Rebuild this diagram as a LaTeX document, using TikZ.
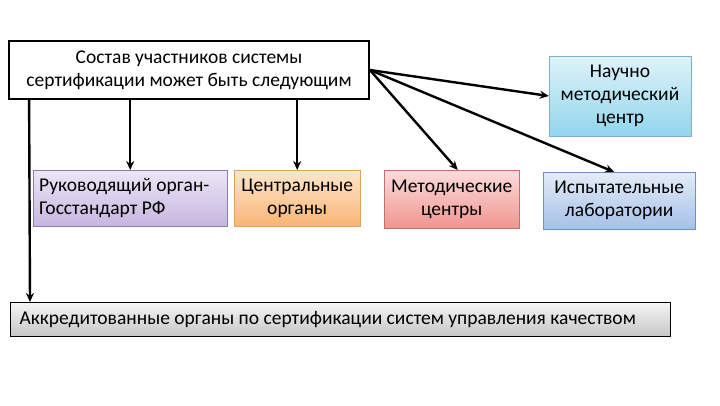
\documentclass[tikz,border=0pt]{standalone}
\usepackage{fontspec}
\setmainfont{Carlito}
\usetikzlibrary{arrows.meta}
\definecolor{nauT}{HTML}{DFF3FA}\definecolor{nauB}{HTML}{92D5EC}\definecolor{nauD}{HTML}{7FB0C8}
\definecolor{rukT}{HTML}{ECE6F5}\definecolor{rukB}{HTML}{C6B6E0}\definecolor{rukD}{HTML}{8A7FA8}
\definecolor{cenT}{HTML}{FDE6CC}\definecolor{cenB}{HTML}{F9B574}\definecolor{cenD}{HTML}{E0A060}
\definecolor{metT}{HTML}{FCDCDC}\definecolor{metB}{HTML}{F0958F}\definecolor{metD}{HTML}{C07070}
\definecolor{ispT}{HTML}{E4ECF8}\definecolor{ispB}{HTML}{A5C0E8}\definecolor{ispD}{HTML}{7090C0}

\begin{document}
\begin{tikzpicture}[x=1pt,y=-1pt,
  box/.style={draw,rectangle,inner sep=2pt,font=\fontsize{19.5}{23}\selectfont,align=center},
  clrbox/.style={box,draw=#1D,top color=#1T,bottom color=#1B,anchor=north west},
  arr/.style={line width=2.4pt,-{Stealth[length=9pt,width=8pt]}}]
\useasboundingbox (0,0) rectangle (720,405);
\node[box,line width=1.8pt,minimum width=360pt,minimum height=58pt] (top) at (189,70)
   {Состав участников системы\\сертификации может быть следующим};
\node[clrbox=nau,anchor=center,minimum width=142pt,minimum height=80pt] (nau) at (620,96)
   {Научно\\методический\\центр};
\node[clrbox=ruk,align=flush left,text width=182pt,inner xsep=6pt,minimum height=56pt] (ruk) at (33,170)
   {Руководящий орган-\\Госстандарт РФ};
\node[clrbox=cen,minimum width=126pt,minimum height=56pt] (cen) at (234,170)
   {Центральные\\органы};
\node[clrbox=met,minimum width=135pt,minimum height=58pt] (met) at (384,170)
   {Методические\\центры};
\node[clrbox=isp,minimum width=152pt,minimum height=57pt] (isp) at (543,172)
   {Испытательные\\лаборатории};
\node[box,line width=1.2pt,top color=gray!8,bottom color=gray!45,anchor=north west,align=flush left,text width=642pt,minimum height=34pt,inner xsep=9pt] (bot) at (10,302)
   {Аккредитованные органы по сертификации систем управления качеством};
% arrows
\draw[arr] (top.south -| ruk.north) -- (ruk.north);
\draw[arr] (top.south -| cen.north) -- (cen.north);
\draw[arr] ([xshift=21pt]top.south west) -- ([xshift=20pt]bot.north west);
\draw[arr] (top.east) -- (nau.west);
\draw[arr] (top.east) -- ([xshift=6pt]met.north);
\draw[arr] (top.east) -- ([xshift=-5pt]isp.north);
\end{tikzpicture}
\end{document}
